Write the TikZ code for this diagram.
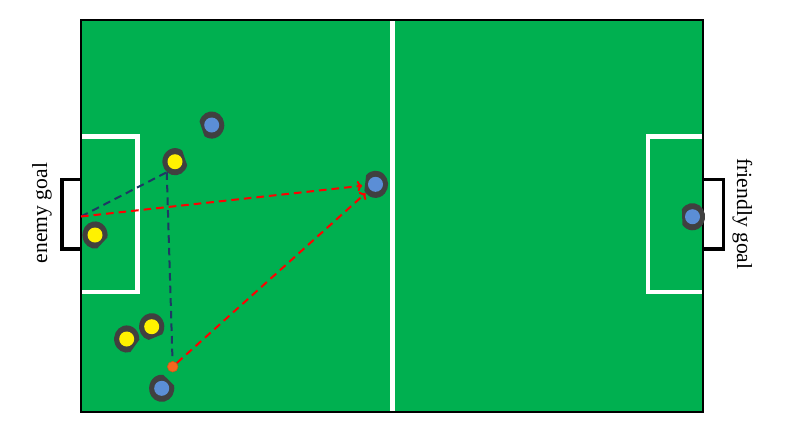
\documentclass[tikz,border=0pt]{standalone}
\usepackage{fontspec}
\setmainfont{Liberation Serif}
\usetikzlibrary{arrows.meta}
\definecolor{pitch}{HTML}{00B050}
\definecolor{robotgray}{HTML}{404040}
\definecolor{rblue}{HTML}{5B8ED6}
\definecolor{rball}{HTML}{F5661E}
\definecolor{pnavy}{HTML}{1F3864}
\tikzset{markline/.style = {white, line width=2.3pt},
         goalline/.style = {black, line width=1.6pt},
         pass/.style = {dash pattern=on 3.8pt off 2.5pt, line width=1pt},
         label/.style = {font=\fontsize{10.8}{13}\selectfont}}
% robot: name, position, heading of the flat side, colour
\newcommand{\robot}[4]{%
  \fill[robotgray] (#2) ++(#3+35:12.6 and 13.6)
    arc[start angle=#3+35, end angle=#3+325, x radius=12.6, y radius=13.6] -- cycle;
  \node[circle, fill=#4, inner sep=0pt, minimum size=7.5pt] (#1-in) at (#2) {};
  \node[circle, inner sep=0pt, minimum size=13pt] (#1) at (#2) {};}

\begin{document}
\begin{tikzpicture}[x=0.5pt, y=-0.5pt]
      \useasboundingbox (0,0) rectangle (786,435);
      \fill [pitch] (81,20) rectangle (703,412);

      % markings
      \draw [markline] (392.7,20) -- (392.7,412);
      \draw [markline] (81,136.5) -| (137.5,292) -- (81,292);
      \draw [markline] (703,136.5) -| (648,292) -- (703,292);
      \draw [line width=0.6pt] (81,20) rectangle (703,412);

      % goals
      \draw [goalline] (81,179.3) -| (62,249) -- (81,249);
      \draw [goalline] (703,179.3) -| (723.7,249) -- (703,249);
      \coordinate (eg) at (81,216.5);
      \node [label, rotate=90] (enemy) at (42,213) {enemy goal};
      \node [label, rotate=-90] (friendly) at (742.4,214) {friendly goal};

      % robots
      \robot{b1}{211.7,125}{160}{rblue}
      \robot{b2}{161.7,388.3}{312}{rblue}
      \robot{b3}{375.5,184.3}{187}{rblue}
      \robot{b4}{692.5,216.7}{178}{rblue}
      \robot{y1}{175,161.7}{340}{yellow}
      \robot{y2}{95,235}{45}{yellow}
      \robot{y3}{151.7,326.7}{69}{yellow}
      \robot{y4}{126.7,339}{38}{yellow}
      \node [circle, fill=rball, draw=rball!85!black, line width=0.3pt,
             inner sep=0pt, minimum size=5.3pt] (ball) at (172.7,366.7) {};

      % passes
      \draw [pass, pnavy] (eg) -- (y1.232);
      \draw [pass, pnavy] (y1.232) -- (ball);
      \draw [pass, red, -{To[length=2.5pt]}] (eg) -- (b3);
      \draw [pass, red, -{To[length=2.5pt]}] (ball) -- (b3);
    \end{tikzpicture}
\end{document}
